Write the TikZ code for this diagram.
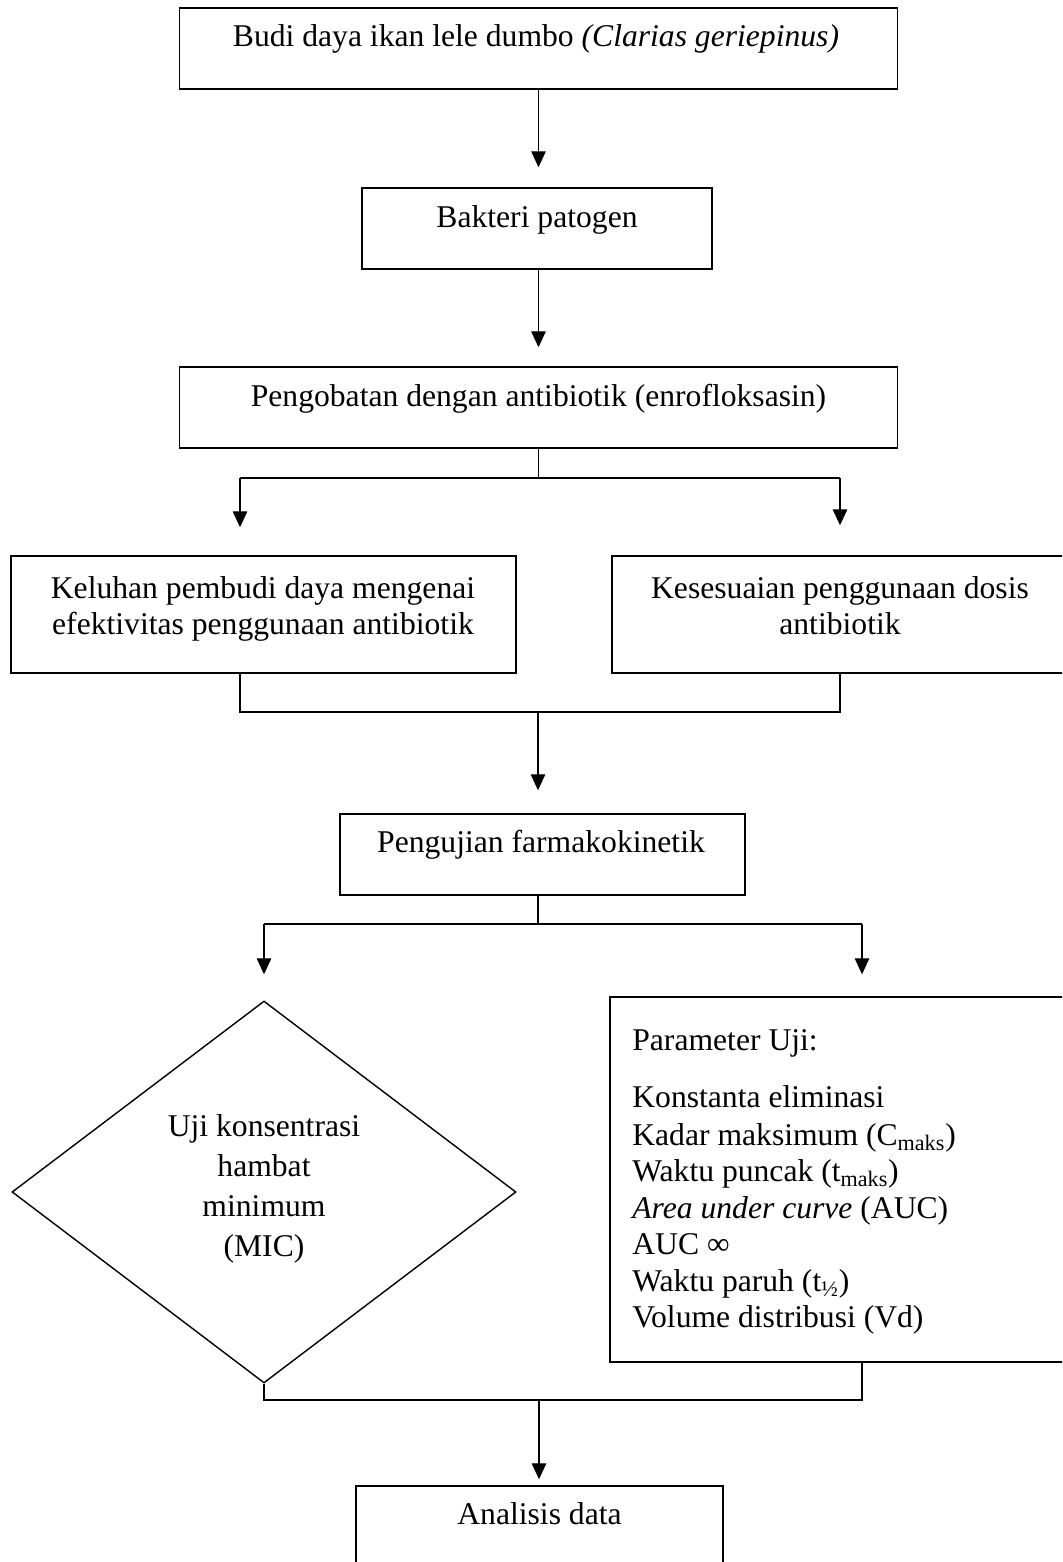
\documentclass[tikz,border=0pt]{standalone}
\usepackage{fontspec}
\setmainfont{Liberation Serif}
\usetikzlibrary{arrows.meta, positioning, calc, shapes.geometric}
\newcommand{\fsz}{\fontsize{18}{21}\selectfont}

\begin{document}
\begin{tikzpicture}[x=1cm, y=1cm,
  box/.style={draw, line width=0.8pt, inner sep=0pt},
  lbl/.style={font=\fsz, inner sep=0pt, anchor=base},
  conn/.style={line width=0.7pt},
  arr/.style={conn, -{Triangle[length=0.32cm, width=0.29cm]}}]
\path[use as bounding box, clip] (0,0) rectangle (21.24,31.24);

% ---- top chain ----
\node[box, minimum width=14.36cm, minimum height=1.62cm] (budidaya) at (10.77,30.27) {};
\node[lbl] (tbudidaya) at (10.72,30.30) {Budi daya ikan lele dumbo \textit{(Clarias geriepinus)}};

\node[box, minimum width=7.0cm, minimum height=1.62cm] (bakteri) at (10.74,26.67) {};
\node[lbl] (tbakteri) at (10.74,26.68) {Bakteri patogen};

\node[box, minimum width=14.36cm, minimum height=1.62cm] (pengobatan) at (10.77,23.09) {};
\node[lbl] (tpengobatan) at (10.77,23.10) {Pengobatan dengan antibiotik (enrofloksasin)};

\draw[arr, shorten >=0.40cm] (budidaya.south) -- (budidaya.south |- bakteri.north);
\draw[arr, shorten >=0.38cm] (budidaya.south |- bakteri.south) -- (budidaya.south |- pengobatan.north);

% ---- two problems ----
\node[box, minimum width=10.10cm, minimum height=2.34cm] (keluhan) at (5.27,18.95) {};
\node[lbl, align=center] (tkeluhan) at (5.26,18.54)
  {Keluhan pembudi daya mengenai\\efektivitas penggunaan antibiotik};

\node[box, minimum width=9.12cm, minimum height=2.34cm] (kesesuaian) at (16.80,18.95) {};
\node[lbl, align=center] (tkesesuaian) at (16.80,18.54)
  {Kesesuaian penggunaan dosis\\antibiotik};

\coordinate (kiri1) at (4.80,21.68);
\coordinate (kanan1) at (16.80,21.68);
\draw[conn] (pengobatan.south) -- (pengobatan.south |- kiri1);
\draw[conn] (kiri1) -- (kanan1);
\draw[arr, shorten >=0.56cm] (kiri1) -- (kiri1 |- keluhan.north);
\draw[arr, shorten >=0.60cm] (kanan1) -- (kanan1 |- kesesuaian.north);

% ---- pharmacokinetics ----
\node[box, minimum width=8.10cm, minimum height=1.62cm] (pengujian) at (10.85,14.15) {};
\node[lbl] (tpengujian) at (10.82,14.18) {Pengujian farmakokinetik};

\coordinate (gabung1) at (10.76,17.00);
\draw[conn] (kiri1 |- keluhan.south) |- (gabung1) -| (kesesuaian.south);
\draw[arr, shorten >=0.46cm] (gabung1) -- (gabung1 |- pengujian.north);

% ---- MIC test and parameters ----
\node[box, shape=diamond, minimum width=10.08cm, minimum height=7.64cm] (mic) at (5.28,7.40) {};
\node[lbl, align=center, font=\fontsize{18}{22.8}\selectfont] (tmic) at (5.28,6.10)
  {Uji konsentrasi\\hambat\\minimum\\(MIC)};

\node[box, minimum width=9.16cm, minimum height=7.30cm] (parameter) at (16.78,7.65) {};
\node[lbl, anchor=base west] (tparameter) at (12.64,10.22) {Parameter Uji:};
\foreach \y/\isi [count=\i] in {
    9.08/Konstanta eliminasi,
    8.32/{Kadar maksimum (C\textsubscript{maks})},
    7.60/{Waktu puncak (t\textsubscript{maks})},
    6.86/{\textit{Area under curve} (AUC)},
    6.14/AUC ∞,
    5.40/{Waktu paruh (t\textsubscript{½})},
    4.68/{Volume distribusi (Vd)}}{
  \node[lbl, anchor=base west] (par\i) at (12.64,\y) {\isi};
}

\coordinate (pisah2) at (10.76,12.76);
\coordinate (kiri2) at (5.28,12.76);
\coordinate (kanan2) at (17.24,12.76);
\draw[conn] (pisah2 |- pengujian.south) -- (pisah2);
\draw[conn] (kiri2) -- (kanan2);
\draw[arr, shorten >=0.52cm] (kiri2) -- (mic.north);
\draw[arr, shorten >=0.44cm] (kanan2) -- (kanan2 |- parameter.north);

% ---- data analysis ----
\node[box, minimum width=7.34cm, minimum height=1.72cm] (analisis) at (10.79,0.66) {};
\node[lbl] (tanalisis) at (10.79,0.74) {Analisis data};

\coordinate (gabung2) at (10.78,3.24);
\draw[conn] (mic.south) |- (gabung2) -| (kanan2 |- parameter.south);
\draw[arr, shorten >=0.12cm] (gabung2) -- (gabung2 |- analisis.north);
\end{tikzpicture}
\end{document}
